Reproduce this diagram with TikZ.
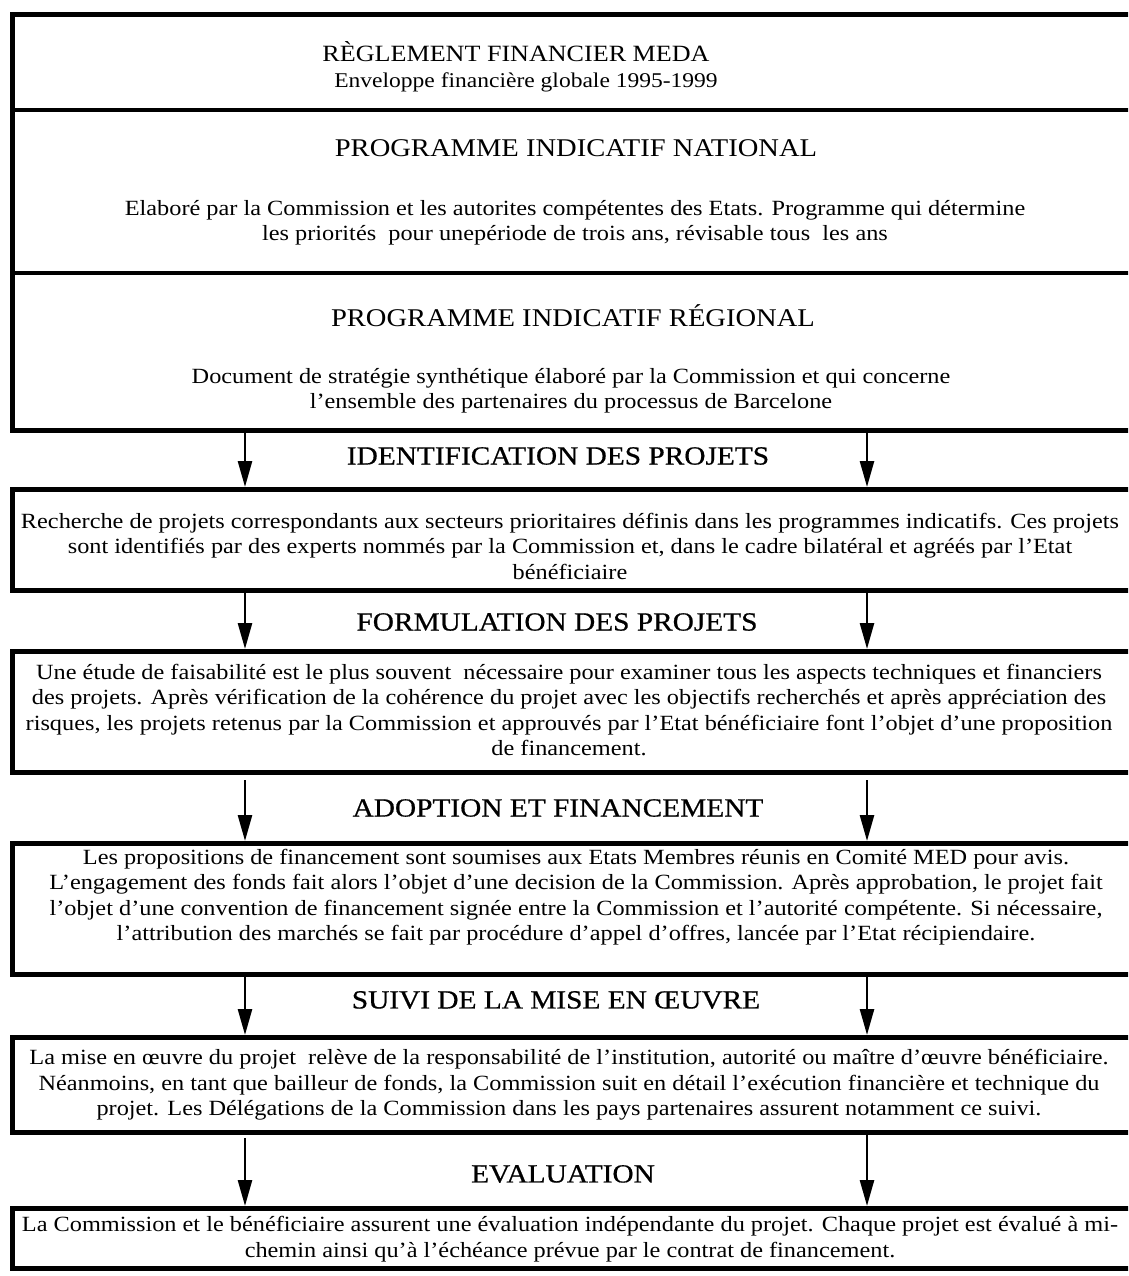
\documentclass[tikz,border=0pt]{standalone}
\usepackage{fontspec}
\setmainfont[FakeStretch=1.12]{Liberation Serif}
\newfontfamily\headfont[FakeStretch=1.12,FakeBold=0.6]{Liberation Serif}
\usetikzlibrary{arrows.meta}
\begin{document}
\begin{tikzpicture}[x=1pt,y=-1pt,
  boxline/.style={line width=5pt},
  divline/.style={line width=4pt},
  arr/.style={line width=2.6pt,-{Triangle[width=14pt,length=26pt]}},
  body/.style={align=center,inner sep=0pt,anchor=center,font=\fontsize{21.7}{25.5}\selectfont},
  toph/.style={inner sep=0pt,anchor=center,font=\fontsize{25.5}{28}\selectfont},
  midh/.style={inner sep=0pt,anchor=center,font=\headfont\fontsize{26.2}{28}\selectfont}]
\useasboundingbox (0,0) rectangle (1128,1276);
\clip (0,0) rectangle (1128,1276);
\fill[white] (0,0) rectangle (1128,1276);

% boxes
\draw[boxline] (12,15) rectangle (1145,430);
\draw[divline] (12,110) -- (1145,110);
\draw[divline] (12,273) -- (1145,273);
\draw[boxline] (12,489) rectangle (1145,590);
\draw[boxline] (12,651) rectangle (1145,772);
\draw[boxline] (12,843) rectangle (1145,974);
\draw[boxline] (12,1037) rectangle (1145,1132);
\draw[boxline] (12,1208) rectangle (1145,1268);

% top box texts
\node[toph,font=\fontsize{23.3}{28}\selectfont] (t1) at (516,52) {RÈGLEMENT FINANCIER MEDA};
\node[body,font=\fontsize{21}{25}\selectfont] (t1b) at (526,82) {Enveloppe financière globale 1995-1999};
\node[toph] (t2) at (576,148) {PROGRAMME INDICATIF NATIONAL};
\node[body] (t2b) at (575,223) {Elaboré par la Commission et les autorites compétentes des Etats. Programme qui détermine\\les priorités\ \ pour unepériode de trois ans, révisable tous\ \ les ans};
\node[toph] (t3) at (573,316) {PROGRAMME INDICATIF RÉGIONAL};
\node[body] (t3b) at (571,391) {Document de stratégie synthétique élaboré par la Commission et qui concerne\\l'ensemble des partenaires du processus de Barcelone};

% headings
\node[midh] (h1) at (558,456) {IDENTIFICATION DES PROJETS};
\node[midh] (h2) at (557,622) {FORMULATION DES PROJETS};
\node[midh] (h3) at (558,808) {ADOPTION ET FINANCEMENT};
\node[midh] (h4) at (556,1000) {SUIVI DE LA MISE EN ŒUVRE};
\node[midh] (h5) at (563,1174) {EVALUATION};

% box texts
\node[body] (b2) at (570,546) {Recherche de projets correspondants aux secteurs prioritaires définis dans les programmes indicatifs. Ces projets\\sont identifiés par des experts nommés par la Commission et, dans le cadre bilatéral et agréés par l'Etat\\bénéficiaire};
\node[body] (b3) at (569,710) {Une étude de faisabilité est le plus souvent\ \ nécessaire pour examiner tous les aspects techniques et financiers\\des projets. Après vérification de la cohérence du projet avec les objectifs recherchés et après appréciation des\\risques, les projets retenus par la Commission et approuvés par l'Etat bénéficiaire font l'objet d'une proposition\\de financement.};
\node[body] (b4) at (576,897) {Les propositions de financement sont soumises aux Etats Membres réunis en Comité MED pour avis.\\L'engagement des fonds fait alors l'objet d'une decision de la Commission. Après approbation, le projet fait\\l'objet d'une convention de financement signée entre la Commission et l'autorité compétente. Si nécessaire,\\l'attribution des marchés se fait par procédure d'appel d'offres, lancée par l'Etat récipiendaire.};
\node[body] (b5) at (569,1085) {La mise en œuvre du projet\ \ relève de la responsabilité de l'institution, autorité ou maître d'œuvre bénéficiaire.\\Néanmoins, en tant que bailleur de fonds, la Commission suit en détail l'exécution financière et technique du\\projet. Les Délégations de la Commission dans les pays partenaires assurent notamment ce suivi.};
\node[body] (b6) at (570,1239) {La Commission et le bénéficiaire assurent une évaluation indépendante du projet. Chaque projet est évalué à mi-\\chemin ainsi qu'à l'échéance prévue par le contrat de financement.};

% arrow end points
\coordinate (l1s) at (245,432); \coordinate (l1e) at (245,487);
\coordinate (r1s) at (867,432); \coordinate (r1e) at (867,487);
\coordinate (l2s) at (245,592); \coordinate (l2e) at (245,649);
\coordinate (r2s) at (867,592); \coordinate (r2e) at (867,649);
\coordinate (l3s) at (245,780); \coordinate (l3e) at (245,841);
\coordinate (r3s) at (867,780); \coordinate (r3e) at (867,841);
\coordinate (l4s) at (245,976); \coordinate (l4e) at (245,1035);
\coordinate (r4s) at (867,976); \coordinate (r4e) at (867,1035);
\coordinate (l5s) at (245,1138); \coordinate (l5e) at (245,1206);
\coordinate (r5s) at (867,1134); \coordinate (r5e) at (867,1206);

\foreach \a in {l1,r1,l2,r2,l3,r3,l4,r4,l5,r5}
  \draw[arr] (\a s) -- (\a e);
\end{tikzpicture}
\end{document}
